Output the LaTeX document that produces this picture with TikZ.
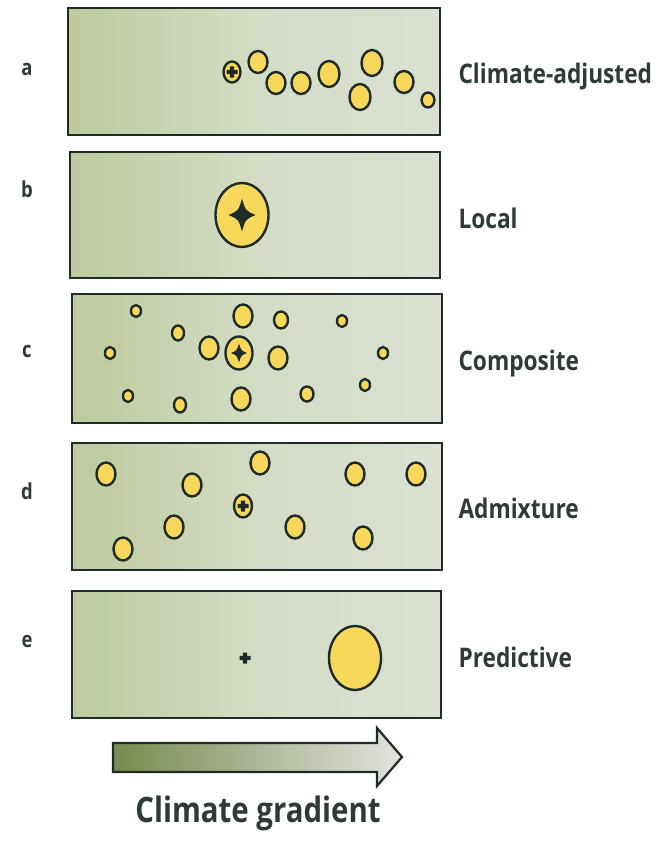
\documentclass[tikz,border=0pt]{standalone}
\usepackage{fontspec}
\newfontfamily\labelfont{Open Sans}[FakeStretch=0.84, BoldFeatures={FakeStretch=0.84}]
\usetikzlibrary{
    arrows.meta,
    positioning
}

\definecolor{ink}{RGB}{30,43,40}
\definecolor{labelink}{RGB}{46,58,54}
\definecolor{blobfill}{RGB}{248,216,90}
\definecolor{gradA}{RGB}{178,194,142}
\definecolor{gradB}{RGB}{188,202,156}
\definecolor{gradC}{RGB}{211,221,197}
\definecolor{gradD}{RGB}{227,227,226}
\definecolor{arrowA}{RGB}{120,138,78}
\definecolor{arrowB}{RGB}{226,227,223}

\pgfdeclarehorizontalshading{panelgrad}{100bp}{
    color(0bp)=(gradA); color(25bp)=(gradB); color(50bp)=(gradC); color(100bp)=(gradD)}

\tikzset{
    frame/.style={draw=ink, line width=2.6pt},
    blob/.style={fill=blobfill, draw=ink, line width=2.4pt},
    letter/.style={font=\labelfont\bfseries\fontsize{22}{24}\selectfont, text=labelink, anchor=base},
    kind/.style={font=\labelfont\bfseries\fontsize{27}{30}\selectfont, text=labelink, anchor=base west},
    spark/.pic={\fill[ink] (0,-1) .. controls (0.26,-0.26) .. (1,0) .. controls (0.26,0.26) .. (0,1)
        .. controls (-0.26,0.26) .. (-1,0) .. controls (-0.26,-0.26) .. (0,-1) -- cycle;},
    cross/.pic={\fill[ink, rounded corners=0.3] (-0.38,-1) rectangle (0.38,1);
        \fill[ink, rounded corners=0.3] (-1,-0.38) rectangle (1,0.38);}
}

\begin{document}
\begin{tikzpicture}[x=1pt, y=-1pt]
    \useasboundingbox (0,0) rectangle (666,843);

    % panels
    \foreach \l/\t/\r/\b in {68/8/440/135, 70/152/440/278, 72/294/442/423, 72/443/442/570, 72/591/441/718} {
        \shade[shading=panelgrad] (\l,\t) rectangle (\r,\b);
        \draw[frame] (\l,\t) rectangle (\r,\b);
    }

    % a: climate-adjusted
    \foreach \x/\y/\rx/\ry in {258/62/9.5/11, 276/83/9.5/11, 301/83/9.5/11, 329/74/10.5/13,
        372/63/10.5/13, 360/97/10.5/13, 404/82/9.5/11, 428/100/6.4/7.5, 232/72/8.5/10.5}
        \filldraw[blob] (\x,\y) ellipse [x radius=\rx, y radius=\ry];
    \pic[scale=5.5] at (232,72) {cross};

    % b: local
    \filldraw[blob] (242,215) ellipse [x radius=26.5, y radius=32];
    \pic[xscale=13.5, yscale=16.5] at (242,215) {spark};

    % c: composite
    \foreach \x/\y/\rx/\ry in {136/311/5/6, 178/333/6/7.5, 110/353/5/6, 209/348/9.5/11.5,
        243/316/9.5/11.5, 281/320/7/8.5, 278/358/9.5/11.5, 342/321/5/6, 383/353/5/6,
        365/385/5/6, 307/394/6.5/7.5, 241/399/9.5/11.5, 180/405/6/7.5, 128/396/5/6,
        239/353/13.5/16.5}
        \filldraw[blob] (\x,\y) ellipse [x radius=\rx, y radius=\ry];
    \pic[xscale=8, yscale=9.5] at (239,353) {spark};

    % d: admixture
    \foreach \x/\y in {106/474, 192/485, 260/463, 355/474, 416/474, 174/527, 295/527, 363/538, 123/549}
        \filldraw[blob] (\x,\y) ellipse [x radius=9.5, y radius=11.5];
    \filldraw[blob] (243,506) ellipse [x radius=9, y radius=11.5];
    \pic[scale=5.5] at (243,506) {cross};

    % e: predictive
    \pic[scale=5.5] at (245,658) {cross};
    \filldraw[blob] (355,658) ellipse [x radius=26, y radius=32];

    % labels
    \node[letter] (la) at (27,75) {a};
    \node[letter] (lb) at (27,197) {b};
    \node[letter] (lc) at (27,357) {c};
    \node[letter] (ld) at (27,499) {d};
    \node[letter] (le) at (27,647) {e};
    \node[kind] (ka) at (455,84) {Climate-adjusted};
    \node[kind] (kb) at (455,228) {Local};
    \node[kind] (kc) at (455,370) {Composite};
    \node[kind] (kd) at (455,518) {Admixture};
    \node[kind] (ke) at (455,667) {Predictive};

    % gradient arrow
    \shade[left color=arrowA, right color=arrowB, draw=ink, line width=2.2pt, line join=miter]
        (113,743) -- (377,743) -- (377,728) -- (402,757) -- (377,786) -- (377,772) -- (113,772) -- cycle;
    \node[font=\labelfont\bfseries\fontsize{35}{40}\selectfont, text=labelink, anchor=base] (grad)
        at (258,822) {Climate gradient};
\end{tikzpicture}
\end{document}
